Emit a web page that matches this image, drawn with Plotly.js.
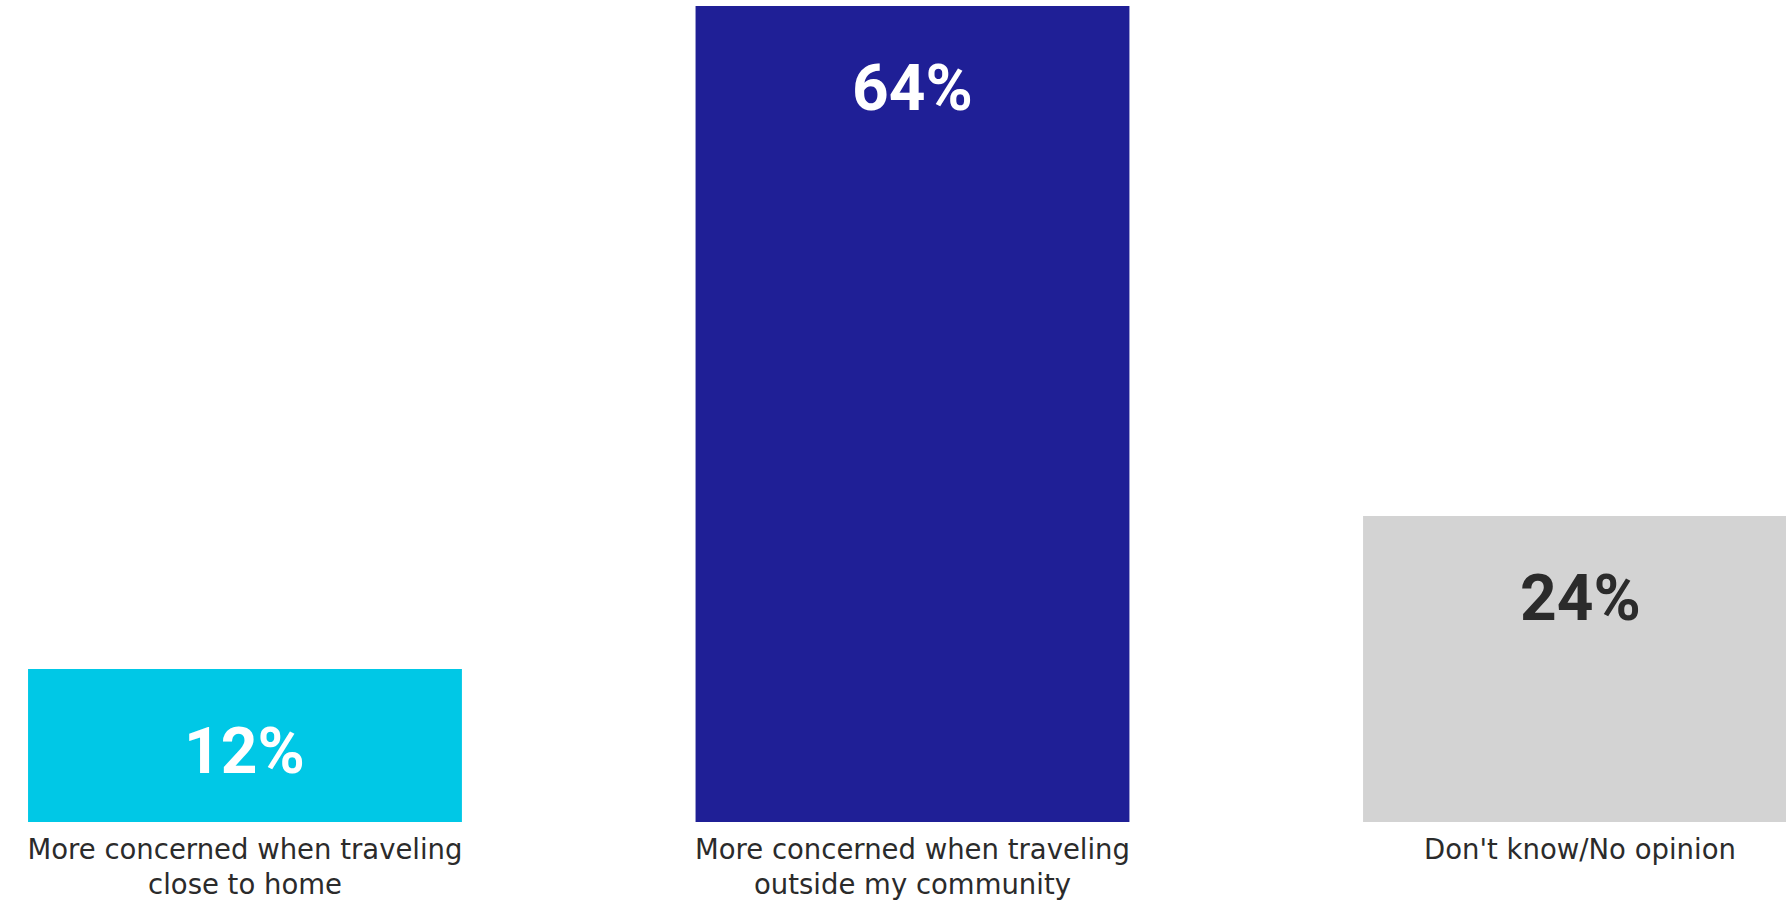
<!DOCTYPE html>
<html>
<head>
<meta charset="utf-8">
<script src="https://cdn.plot.ly/plotly-3.0.1.min.js"></script>
<style>
html,body{margin:0;padding:0;background:#fff;}
#chart{width:1786px;height:901px;}
</style>
</head>
<body>
<div id="chart"></div>
<script>
const categories = [
  "More concerned when traveling<br>close to home",
  "More concerned when traveling<br>outside my community",
  "Don't know/No opinion"
];
const values = [12, 64, 24];
const valueLabels = ["12%", "64%", "24%"];
const barColors = ["#00C8E6", "#1F1F96", "#D3D3D3"];
const labelColors = ["#FFFFFF", "#FFFFFF", "#2B2B2B"];

const trace = {
  type: "bar",
  x: categories,
  y: values,
  marker: { color: barColors, line: { width: 0 } },
  width: 0.65,
  hoverinfo: "none",
  showlegend: false
};

const annotations = categories.map((c, i) => ({
  x: c,
  y: values[i],
  xref: "x",
  yref: "y",
  yanchor: "top",
  yshift: -43,
  text: "<b>" + valueLabels[i] + "</b>",
  showarrow: false,
  font: { family: "Roboto, 'Liberation Sans', sans-serif", size: 64, color: labelColors[i] }
}));

const layout = {
  width: 1786,
  height: 901,
  margin: { l: 0, r: 0, t: 6, b: 79, pad: 0 },
  paper_bgcolor: "#FFFFFF",
  plot_bgcolor: "#FFFFFF",
  xaxis: {
    type: "category",
    range: [-0.367, 2.3086],
    showgrid: false,
    zeroline: false,
    showline: false,
    ticks: "",
    ticklabelstandoff: 8,
    tickfont: { family: "'DejaVu Sans', sans-serif", size: 27.5, color: "#2B2B2B" },
    fixedrange: true
  },
  yaxis: {
    range: [0, 64],
    visible: false,
    showgrid: false,
    zeroline: false,
    fixedrange: true
  },
  annotations: annotations,
  showlegend: false
};

Plotly.newPlot("chart", [trace], layout, { displayModeBar: false, staticPlot: true });
</script>
</body>
</html>
